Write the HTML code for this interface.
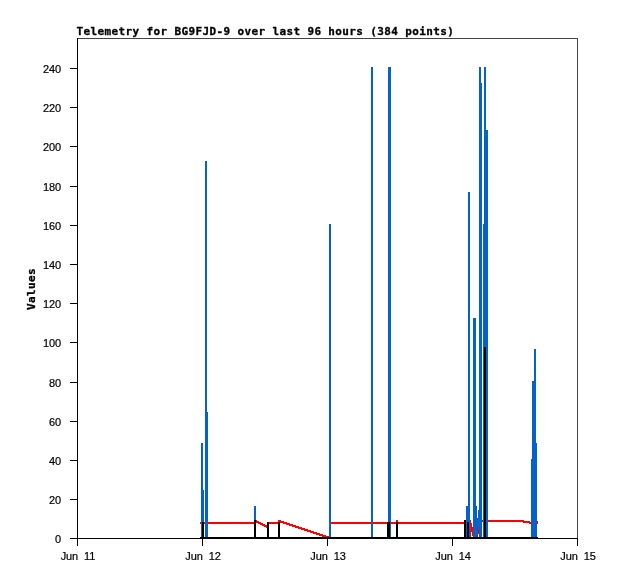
<!DOCTYPE html>
<html><head><meta charset="utf-8"><title>Telemetry for BG9FJD-9</title>
<style>
html,body{margin:0;padding:0;background:#fff;}
body{width:618px;height:579px;position:relative;overflow:hidden;}
.t{position:absolute;white-space:pre;color:#000;line-height:1;}
.title{font-family:"DejaVu Sans Mono","Liberation Mono",monospace;font-weight:bold;font-size:11px;letter-spacing:0.377px;-webkit-text-stroke:0.3px #000;}
.lab{font-family:"Liberation Sans",sans-serif;font-size:11px;letter-spacing:-0.1px;-webkit-text-stroke:0.2px #000;}
.yl{text-align:right;width:40px;}
.xl{text-align:center;width:60px;word-spacing:3px;}
.vt{font-family:"DejaVu Sans Mono","Liberation Mono",monospace;font-weight:bold;font-size:11px;letter-spacing:0.377px;-webkit-text-stroke:0.3px #000;transform-origin:0 0;transform:rotate(-90deg);}
</style></head><body>
<svg width="618" height="579" viewBox="0 0 618 579" shape-rendering="crispEdges" style="position:absolute;left:0;top:0">
<rect x="78" y="38" width="500" height="1" fill="#444444"/>
<rect x="577" y="38" width="1" height="501" fill="#444444"/>
<rect x="77" y="38" width="1" height="501" fill="#000000"/>
<rect x="77" y="538" width="501" height="1" fill="#000000"/>
<rect x="70" y="538" width="8" height="1" fill="#000000"/>
<rect x="70" y="499" width="8" height="1" fill="#000000"/>
<rect x="70" y="460" width="8" height="1" fill="#000000"/>
<rect x="70" y="421" width="8" height="1" fill="#000000"/>
<rect x="70" y="382" width="8" height="1" fill="#000000"/>
<rect x="70" y="342" width="8" height="1" fill="#000000"/>
<rect x="70" y="303" width="8" height="1" fill="#000000"/>
<rect x="70" y="264" width="8" height="1" fill="#000000"/>
<rect x="70" y="225" width="8" height="1" fill="#000000"/>
<rect x="70" y="186" width="8" height="1" fill="#000000"/>
<rect x="70" y="146" width="8" height="1" fill="#000000"/>
<rect x="70" y="107" width="8" height="1" fill="#000000"/>
<rect x="70" y="68" width="8" height="1" fill="#000000"/>
<rect x="77" y="538" width="1" height="8" fill="#000000"/>
<rect x="202" y="538" width="1" height="8" fill="#000000"/>
<rect x="327" y="538" width="1" height="8" fill="#000000"/>
<rect x="452" y="538" width="1" height="8" fill="#000000"/>
<rect x="577" y="538" width="1" height="8" fill="#000000"/>
<rect x="200" y="522" width="55" height="2" fill="#ff0000"/>
<rect x="256" y="520" width="1" height="3" fill="#ff0000"/>
<rect x="257" y="521" width="1" height="2" fill="#ff0000"/>
<rect x="258" y="521" width="1" height="3" fill="#ff0000"/>
<rect x="259" y="522" width="1" height="2" fill="#ff0000"/>
<rect x="260" y="522" width="1" height="3" fill="#ff0000"/>
<rect x="261" y="523" width="1" height="2" fill="#ff0000"/>
<rect x="262" y="523" width="1" height="3" fill="#ff0000"/>
<rect x="263" y="524" width="1" height="2" fill="#ff0000"/>
<rect x="264" y="524" width="1" height="3" fill="#ff0000"/>
<rect x="265" y="525" width="1" height="2" fill="#ff0000"/>
<rect x="266" y="525" width="1" height="3" fill="#ff0000"/>
<rect x="267" y="522" width="12" height="2" fill="#ff0000"/>
<rect x="278" y="520" width="3" height="2" fill="#ff0000"/>
<rect x="278" y="520" width="1" height="2" fill="#ff0000"/>
<rect x="279" y="520" width="1" height="2" fill="#ff0000"/>
<rect x="280" y="520" width="1" height="2" fill="#ff0000"/>
<rect x="280" y="521" width="1" height="2" fill="#ff0000"/>
<rect x="281" y="521" width="1" height="2" fill="#ff0000"/>
<rect x="282" y="521" width="1" height="2" fill="#ff0000"/>
<rect x="283" y="521" width="1" height="2" fill="#ff0000"/>
<rect x="283" y="522" width="1" height="2" fill="#ff0000"/>
<rect x="284" y="522" width="1" height="2" fill="#ff0000"/>
<rect x="285" y="522" width="1" height="2" fill="#ff0000"/>
<rect x="286" y="522" width="1" height="2" fill="#ff0000"/>
<rect x="286" y="523" width="1" height="2" fill="#ff0000"/>
<rect x="287" y="523" width="1" height="2" fill="#ff0000"/>
<rect x="288" y="523" width="1" height="2" fill="#ff0000"/>
<rect x="289" y="523" width="1" height="2" fill="#ff0000"/>
<rect x="289" y="524" width="1" height="2" fill="#ff0000"/>
<rect x="290" y="524" width="1" height="2" fill="#ff0000"/>
<rect x="291" y="524" width="1" height="2" fill="#ff0000"/>
<rect x="292" y="524" width="1" height="2" fill="#ff0000"/>
<rect x="292" y="525" width="1" height="2" fill="#ff0000"/>
<rect x="293" y="525" width="1" height="2" fill="#ff0000"/>
<rect x="294" y="525" width="1" height="2" fill="#ff0000"/>
<rect x="295" y="525" width="1" height="2" fill="#ff0000"/>
<rect x="295" y="526" width="1" height="2" fill="#ff0000"/>
<rect x="296" y="526" width="1" height="2" fill="#ff0000"/>
<rect x="297" y="526" width="1" height="2" fill="#ff0000"/>
<rect x="298" y="526" width="1" height="2" fill="#ff0000"/>
<rect x="298" y="527" width="1" height="2" fill="#ff0000"/>
<rect x="299" y="527" width="1" height="2" fill="#ff0000"/>
<rect x="300" y="527" width="1" height="2" fill="#ff0000"/>
<rect x="301" y="527" width="1" height="2" fill="#ff0000"/>
<rect x="301" y="528" width="1" height="2" fill="#ff0000"/>
<rect x="302" y="528" width="1" height="2" fill="#ff0000"/>
<rect x="303" y="528" width="1" height="2" fill="#ff0000"/>
<rect x="304" y="528" width="1" height="2" fill="#ff0000"/>
<rect x="304" y="529" width="1" height="2" fill="#ff0000"/>
<rect x="305" y="529" width="1" height="2" fill="#ff0000"/>
<rect x="306" y="529" width="1" height="2" fill="#ff0000"/>
<rect x="307" y="529" width="1" height="2" fill="#ff0000"/>
<rect x="307" y="530" width="1" height="2" fill="#ff0000"/>
<rect x="308" y="530" width="1" height="2" fill="#ff0000"/>
<rect x="309" y="530" width="1" height="2" fill="#ff0000"/>
<rect x="310" y="530" width="1" height="2" fill="#ff0000"/>
<rect x="310" y="531" width="1" height="2" fill="#ff0000"/>
<rect x="311" y="531" width="1" height="2" fill="#ff0000"/>
<rect x="312" y="531" width="1" height="2" fill="#ff0000"/>
<rect x="313" y="531" width="1" height="2" fill="#ff0000"/>
<rect x="313" y="532" width="1" height="2" fill="#ff0000"/>
<rect x="314" y="532" width="1" height="2" fill="#ff0000"/>
<rect x="315" y="532" width="1" height="2" fill="#ff0000"/>
<rect x="316" y="532" width="1" height="2" fill="#ff0000"/>
<rect x="316" y="533" width="1" height="2" fill="#ff0000"/>
<rect x="317" y="533" width="1" height="2" fill="#ff0000"/>
<rect x="318" y="533" width="1" height="2" fill="#ff0000"/>
<rect x="319" y="533" width="1" height="2" fill="#ff0000"/>
<rect x="319" y="534" width="1" height="2" fill="#ff0000"/>
<rect x="320" y="534" width="1" height="2" fill="#ff0000"/>
<rect x="321" y="534" width="1" height="2" fill="#ff0000"/>
<rect x="322" y="534" width="1" height="2" fill="#ff0000"/>
<rect x="322" y="535" width="1" height="2" fill="#ff0000"/>
<rect x="323" y="535" width="1" height="2" fill="#ff0000"/>
<rect x="324" y="535" width="1" height="2" fill="#ff0000"/>
<rect x="325" y="535" width="1" height="2" fill="#ff0000"/>
<rect x="325" y="536" width="1" height="2" fill="#ff0000"/>
<rect x="326" y="536" width="1" height="2" fill="#ff0000"/>
<rect x="327" y="536" width="1" height="2" fill="#ff0000"/>
<rect x="328" y="536" width="1" height="2" fill="#ff0000"/>
<rect x="328" y="537" width="1" height="2" fill="#ff0000"/>
<rect x="329" y="537" width="1" height="2" fill="#ff0000"/>
<rect x="331" y="522" width="134" height="2" fill="#ff0000"/>
<rect x="396" y="520" width="2" height="2" fill="#ff0000"/>
<rect x="465" y="520" width="5" height="2" fill="#ff0000"/>
<rect x="470" y="520" width="1" height="17" fill="#ff0000"/>
<rect x="471" y="523" width="1" height="9" fill="#ff0000"/>
<rect x="472" y="527" width="1" height="9" fill="#ff0000"/>
<rect x="478" y="527" width="1" height="7" fill="#ff0000"/>
<rect x="479" y="520" width="9" height="2" fill="#ff0000"/>
<rect x="488" y="520" width="36" height="2" fill="#ff0000"/>
<rect x="523" y="521" width="7" height="2" fill="#ff0000"/>
<rect x="529" y="522" width="9" height="2" fill="#ff0000"/>
<rect x="537" y="521" width="1" height="3" fill="#ff0000"/>
<rect x="201" y="443" width="2" height="96" fill="#0562c8"/>
<rect x="202" y="490" width="2" height="49" fill="#0562c8"/>
<rect x="205" y="161" width="2" height="378" fill="#0562c8"/>
<rect x="206" y="412" width="2" height="127" fill="#0562c8"/>
<rect x="254" y="506" width="2" height="33" fill="#0562c8"/>
<rect x="329" y="224" width="2" height="315" fill="#0562c8"/>
<rect x="371" y="67" width="2" height="472" fill="#0562c8"/>
<rect x="388" y="67" width="3" height="472" fill="#0562c8"/>
<rect x="466" y="506" width="3" height="33" fill="#0562c8"/>
<rect x="468" y="192" width="2" height="347" fill="#0562c8"/>
<rect x="473" y="318" width="3" height="221" fill="#0562c8"/>
<rect x="476" y="506" width="1" height="33" fill="#0562c8"/>
<rect x="479" y="67" width="2" height="472" fill="#0562c8"/>
<rect x="481" y="83" width="1" height="456" fill="#0562c8"/>
<rect x="483" y="224" width="1" height="315" fill="#0562c8"/>
<rect x="484" y="67" width="2" height="472" fill="#0562c8"/>
<rect x="486" y="130" width="2" height="409" fill="#0562c8"/>
<rect x="531" y="459" width="1" height="80" fill="#0562c8"/>
<rect x="532" y="381" width="2" height="158" fill="#0562c8"/>
<rect x="534" y="349" width="2" height="190" fill="#0562c8"/>
<rect x="536" y="443" width="1" height="96" fill="#0562c8"/>
<rect x="478" y="510" width="1" height="17" fill="#0562c8"/>
<rect x="477" y="518" width="1" height="17" fill="#0562c8"/>
<rect x="477" y="535" width="1" height="2" fill="#ff0000"/>
<rect x="200" y="537" width="338" height="2" fill="#000000"/>
<rect x="202" y="522" width="2" height="17" fill="#000000"/>
<rect x="254" y="520" width="2" height="19" fill="#000000"/>
<rect x="267" y="522" width="2" height="17" fill="#000000"/>
<rect x="278" y="522" width="2" height="17" fill="#000000"/>
<rect x="387" y="522" width="3" height="17" fill="#000000"/>
<rect x="396" y="522" width="2" height="17" fill="#000000"/>
<rect x="464" y="520" width="2" height="19" fill="#000000"/>
<rect x="467" y="522" width="2" height="17" fill="#000000"/>
<rect x="484" y="347" width="2" height="192" fill="#000000"/>
</svg>
<div class="t title" style="left:76.4px;top:26px">Telemetry for BG9FJD-9 over last 96 hours (384 points)</div>
<div class="t vt" style="left:26px;top:310px">Values</div>
<div class="t lab yl" style="left:21px;top:534px">0</div>
<div class="t lab yl" style="left:21px;top:495px">20</div>
<div class="t lab yl" style="left:21px;top:456px">40</div>
<div class="t lab yl" style="left:21px;top:417px">60</div>
<div class="t lab yl" style="left:21px;top:378px">80</div>
<div class="t lab yl" style="left:21px;top:338px">100</div>
<div class="t lab yl" style="left:21px;top:299px">120</div>
<div class="t lab yl" style="left:21px;top:260px">140</div>
<div class="t lab yl" style="left:21px;top:221px">160</div>
<div class="t lab yl" style="left:21px;top:182px">180</div>
<div class="t lab yl" style="left:21px;top:142px">200</div>
<div class="t lab yl" style="left:21px;top:103px">220</div>
<div class="t lab yl" style="left:21px;top:64px">240</div>
<div class="t lab xl" style="left:48px;top:551px">Jun 11</div>
<div class="t lab xl" style="left:173px;top:551px">Jun 12</div>
<div class="t lab xl" style="left:298px;top:551px">Jun 13</div>
<div class="t lab xl" style="left:423px;top:551px">Jun 14</div>
<div class="t lab xl" style="left:548px;top:551px">Jun 15</div>
</body></html>
